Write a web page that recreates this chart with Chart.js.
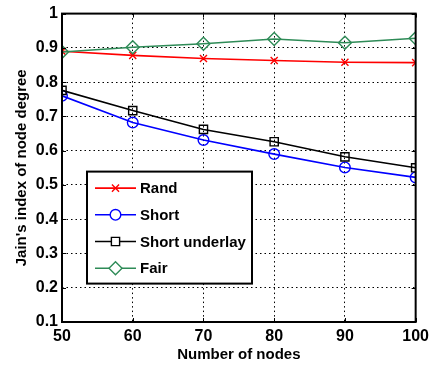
<!DOCTYPE html>
<html>
<head>
<meta charset="utf-8">
<script src="https://cdn.jsdelivr.net/npm/chart.js@4"></script>
<style>
  body { margin: 0; background: #fff; }
  canvas { display: block; }
</style>
</head>
<body>
<canvas id="jainChart" width="434" height="365"></canvas>
<script>
const nodes = [50, 60, 70, 80, 90, 100];
const rand = [0.890, 0.878, 0.869, 0.863, 0.858, 0.857];
const shortPath = [0.760, 0.682, 0.631, 0.590, 0.551, 0.522];
const shortUnderlay = [0.776, 0.717, 0.662, 0.626, 0.582, 0.550];
const fair = [0.888, 0.902, 0.912, 0.926, 0.915, 0.928];

const xTicks = [50, 60, 70, 80, 90, 100];
const yTicks = [0.1, 0.2, 0.3, 0.4, 0.5, 0.6, 0.7, 0.8, 0.9, 1];

const FONT = "'Liberation Sans', Arial, sans-serif";

function toPoints(ys) {
    return nodes.map((n, i) => ({ x: n, y: ys[i] }));
}

function series(label, ys, color, style, radius, order) {
    return {
        label: label,
        data: toPoints(ys),
        borderColor: color,
        backgroundColor: "transparent",
        borderWidth: 1.6,
        pointStyle: style,
        pointRadius: radius,
        pointBorderWidth: 1.4,
        pointBorderColor: color,
        pointBackgroundColor: "transparent",
        tension: 0,
        order: order
    };
}

const datasets = [
    series("Rand", rand, "#ff0000", "crossRot", 5, 4),
    series("Short", shortPath, "#0000ff", "circle", 5.3, 3),
    series("Short underlay", shortUnderlay, "#000000", "rect", 5.8, 2),
    series("Fair", fair, "rgb(46,139,87)", "rectRot", 6.5, 1)
];

// frame, inward ticks and the legend inside the plot
const framePlugin = {
    id: "frame",
    afterDatasetsDraw(chart) {
        const ctx = chart.ctx;
        const a = chart.chartArea;
        const xs = chart.scales.x, ys = chart.scales.y;
        ctx.save();
        ctx.strokeStyle = "#000";
        ctx.lineWidth = 1;
        ctx.beginPath();
        xTicks.forEach(v => {
            const px = Math.round(xs.getPixelForValue(v)) + 0.5;
            ctx.moveTo(px, a.bottom); ctx.lineTo(px, a.bottom - 4);
            ctx.moveTo(px, a.top); ctx.lineTo(px, a.top + 4);
        });
        yTicks.forEach(v => {
            const py = Math.round(ys.getPixelForValue(v)) + 0.5;
            ctx.moveTo(a.left, py); ctx.lineTo(a.left + 4, py);
            ctx.moveTo(a.right, py); ctx.lineTo(a.right - 4, py);
        });
        ctx.stroke();

        // legend box
        const lx = a.left + 25, ly = a.top + 158, lw = 165, lh = 112;
        ctx.fillStyle = "#fff";
        ctx.fillRect(lx, ly, lw, lh);
        ctx.lineWidth = 2;
        ctx.strokeRect(lx, ly, lw, lh);
        ctx.font = "bold 15px " + FONT;
        ctx.textBaseline = "middle";
        ctx.textAlign = "left";
        datasets.forEach((ds, i) => {
            const cy = ly + 16.5 + i * 26.7;
            ctx.strokeStyle = ds.borderColor;
            ctx.lineWidth = 1.6;
            ctx.beginPath();
            ctx.moveTo(lx + 8, cy); ctx.lineTo(lx + 49, cy);
            ctx.stroke();
            ctx.lineWidth = 1.4;
            ctx.fillStyle = "#fff";
            Chart.helpers.drawPoint(ctx, {
                pointStyle: ds.pointStyle,
                radius: ds.pointRadius,
                rotation: 0,
                borderWidth: 1.4
            }, lx + 28.5, cy);
            ctx.fillStyle = "#000";
            ctx.fillText(ds.label, lx + 53, cy + 1);
        });

        // plot frame
        ctx.strokeStyle = "#000";
        ctx.lineWidth = 2;
        ctx.strokeRect(a.left, a.top, a.right - a.left, a.bottom - a.top);
        ctx.restore();
    }
};

new Chart(document.getElementById("jainChart").getContext("2d"), {
    type: "line",
    data: { datasets: datasets },
    plugins: [framePlugin],
    options: {
        responsive: false,
        animation: false,
        layout: { padding: { top: 13, right: 18, left: 0, bottom: 0 } },
        plugins: {
            legend: { display: false },
            tooltip: { enabled: false }
        },
        scales: {
            x: {
                type: "linear",
                min: 50,
                max: 100,
                afterBuildTicks: s => { s.ticks = xTicks.map(v => ({ value: v })); },
                afterFit: s => { s.height = 43; },
                grid: { color: "#000", lineWidth: 1, drawTicks: false },
                border: { display: false, dash: [1.5, 3] },
                ticks: {
                    padding: 5,
                    maxRotation: 0,
                    color: "#000",
                    font: { family: FONT, size: 16, weight: "bold" },
                    callback: v => String(v)
                },
                title: {
                    display: true,
                    text: "Number of nodes",
                    color: "#000",
                    font: { family: FONT, size: 15, weight: "bold" },
                    padding: { top: 0, bottom: 1 }
                }
            },
            y: {
                min: 0.1,
                max: 1,
                afterBuildTicks: s => { s.ticks = yTicks.map(v => ({ value: v })); },
                afterFit: s => { s.width = 62; },
                grid: { color: "#000", lineWidth: 1, drawTicks: false },
                border: { display: false, dash: [1.5, 3] },
                ticks: {
                    padding: 4,
                    color: "#000",
                    font: { family: FONT, size: 16, weight: "bold" },
                    callback: v => String(Math.round(v * 10) / 10)
                },
                title: {
                    display: true,
                    text: "Jain's index of node degree",
                    color: "#000",
                    font: { family: FONT, size: 15, weight: "bold" },
                    padding: { top: 13, bottom: 0 }
                }
            }
        }
    }
});
</script>
</body>
</html>
